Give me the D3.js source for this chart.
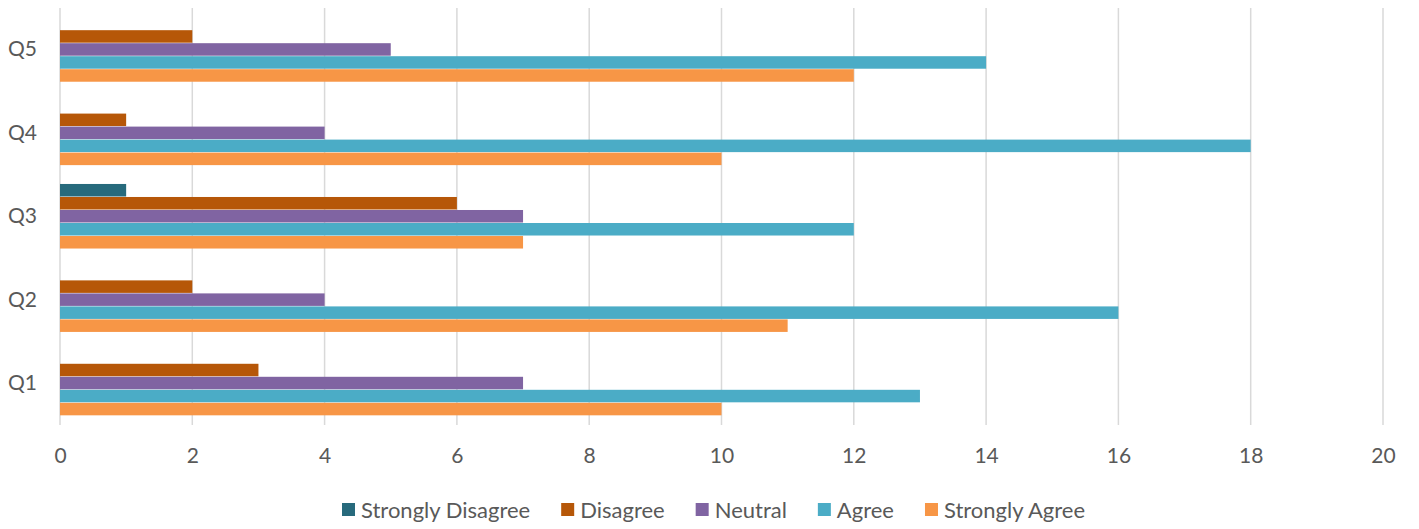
<!DOCTYPE html>
<html>
<head>
<meta charset="utf-8">
<script src="https://cdn.jsdelivr.net/npm/d3@7"></script>
<style>
  body { margin: 0; background: #fff; }
  text { font-family: Lato, "Open Sans", sans-serif; fill: #595959; }
</style>
</head>
<body>
<div id="chart"></div>
<script>
// chart data
var questions = ["Q5", "Q4", "Q3", "Q2", "Q1"];
var seriesNames = ["Strongly Disagree", "Disagree", "Neutral", "Agree", "Strongly Agree"];
var stronglyDisagree = [0, 0, 1, 0, 0];
var disagree = [2, 1, 6, 2, 3];
var neutral = [5, 4, 7, 4, 7];
var agree = [14, 18, 12, 16, 13];
var stronglyAgree = [12, 10, 7, 11, 10];
var xTicks = [0, 2, 4, 6, 8, 10, 12, 14, 16, 18, 20];

var colors = ["#276A7C", "#B65708", "#8064A2", "#4BACC6", "#F79646"];
var seriesValues = [stronglyDisagree, disagree, neutral, agree, stronglyAgree];

var svgWidth = 1419;
var svgHeight = 529;

var margin = { top: 8, right: 36, bottom: 104, left: 60 };
var width = svgWidth - margin.left - margin.right;
var height = svgHeight - margin.top - margin.bottom;

var svg = d3.select("#chart")
  .append("svg")
  .attr("width", svgWidth)
  .attr("height", svgHeight);

var chartGroup = svg.append("g")
  .attr("transform", `translate(${margin.left}, ${margin.top})`);

var xScale = d3.scaleLinear()
  .domain([0, 20])
  .range([0, width]);

var yScale = d3.scaleBand()
  .domain(questions)
  .range([0, height])
  .paddingInner(0.22)
  .paddingOuter(0.11);

var ySub = d3.scaleBand()
  .domain(seriesNames)
  .range([0, yScale.bandwidth()]);

// gridlines
chartGroup.selectAll(".grid")
  .data(xTicks)
  .enter()
  .append("line")
  .attr("x1", d => xScale(d))
  .attr("x2", d => xScale(d))
  .attr("y1", 0)
  .attr("y2", height)
  .attr("stroke", "#d9d9d9")
  .attr("stroke-width", 1.5);

// x axis labels
var bottomAxis = d3.axisBottom(xScale)
  .tickValues(xTicks)
  .tickSize(0)
  .tickPadding(23);

var xAxis = chartGroup.append("g")
  .attr("transform", `translate(0, ${height})`)
  .call(bottomAxis);
xAxis.select(".domain").remove();
xAxis.selectAll("text")
  .style("font-size", "21px")
  .attr("fill", "#595959");

// y axis labels
var leftAxis = d3.axisLeft(yScale)
  .tickSize(0)
  .tickPadding(23);

var yAxis = chartGroup.append("g").call(leftAxis);
yAxis.select(".domain").remove();
yAxis.selectAll("text")
  .style("font-size", "21px")
  .attr("fill", "#595959");

// bars
var rows = [];
questions.forEach(function(q, i) {
  seriesNames.forEach(function(s, j) {
    rows.push({ q: q, s: s, value: seriesValues[j][i], color: colors[j] });
  });
});

chartGroup.selectAll(".bar")
  .data(rows.filter(d => d.value > 0))
  .enter()
  .append("rect")
  .attr("class", "bar")
  .attr("x", xScale(0))
  .attr("y", d => yScale(d.q) + ySub(d.s))
  .attr("width", d => xScale(d.value) - xScale(0))
  .attr("height", ySub.bandwidth() - 0.5)
  .attr("fill", d => d.color);

// legend
var legend = svg.append("g")
  .attr("transform", "translate(342, 503)");

var legendX = 0;
seriesNames.forEach(function(name, i) {
  var item = legend.append("g")
    .attr("transform", `translate(${legendX}, 0)`);
  item.append("rect")
    .attr("width", 13)
    .attr("height", 13)
    .attr("fill", colors[i]);
  var label = item.append("text")
    .attr("x", 19)
    .attr("y", 7)
    .attr("dy", "0.35em")
    .style("font-size", "22px")
    .text(name);
  legendX += 19 + label.node().getComputedTextLength() + 31;
});
</script>
</body>
</html>
